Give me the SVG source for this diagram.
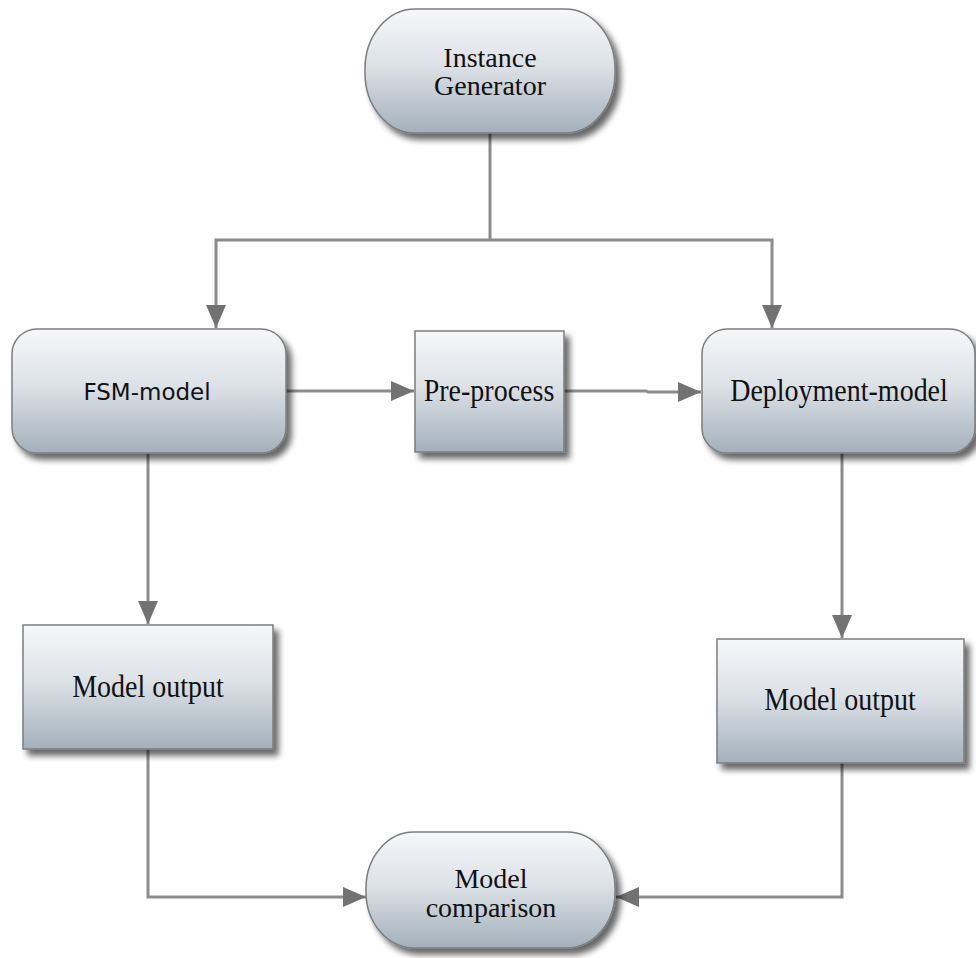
<svg xmlns="http://www.w3.org/2000/svg" width="976" height="958" viewBox="0 0 976 958">
<defs>
<linearGradient id="g" x1="0" y1="0" x2="0" y2="1">
<stop offset="0" stop-color="#f6f7f9"/>
<stop offset="0.45" stop-color="#dde2e7"/>
<stop offset="1" stop-color="#a3b0bc"/>
</linearGradient>
<filter id="sh" x="-10%" y="-10%" width="125%" height="130%">
<feGaussianBlur in="SourceAlpha" stdDeviation="3"/>
<feOffset dx="5" dy="6" result="b"/>
<feComponentTransfer><feFuncA type="linear" slope="0.6"/></feComponentTransfer>
<feMerge><feMergeNode/><feMergeNode in="SourceGraphic"/></feMerge>
</filter>
<marker id="ah" markerWidth="24" markerHeight="22" refX="23" refY="11" orient="auto" markerUnits="userSpaceOnUse">
<path d="M0,1 L23,11 L0,21 Z" fill="#727272"/>
</marker>
<style>
.box{fill:url(#g);stroke:#7d7d7d;stroke-width:1.5;filter:url(#sh)}
.ts{font-family:"Liberation Serif","Times New Roman",serif;font-size:28px;fill:#111;text-anchor:middle}
.tv{font-family:"DejaVu Sans",Verdana,sans-serif;font-size:23px;fill:#111;text-anchor:middle}
.c{fill:none;stroke:#8c8c8c;stroke-width:3}
</style>
</defs>
<g id="connectors">
<path class="c" d="M490,133 L490,240"/>
<path class="c" d="M490,240 L216,240 L216,328" marker-end="url(#ah)"/>
<path class="c" d="M490,240 L772,240 L772,328" marker-end="url(#ah)"/>
<path class="c" d="M286,391 L414,391" marker-end="url(#ah)"/>
<path class="c" d="M564,391 L646,391 L648,392 L701,392" marker-end="url(#ah)"/>
<path class="c" d="M148,453 L148,624" marker-end="url(#ah)"/>
<path class="c" d="M842,453 L842,638" marker-end="url(#ah)"/>
<path class="c" d="M148,749 L148,897 L366,897" marker-end="url(#ah)"/>
<path class="c" d="M842,763 L842,897 L616,897" marker-end="url(#ah)"/>
</g>
<g id="instance-generator">
<rect class="box" x="365" y="9" width="250" height="124" rx="50" ry="60"/>
<text class="ts" x="490" y="67">Instance</text>
<text class="ts" x="490" y="95">Generator</text>
</g>
<g id="fsm-model">
<rect class="box" x="12" y="329" width="274" height="124" rx="25" ry="25"/>
<text class="tv" x="147" y="400">FSM-model</text>
</g>
<g id="pre-process">
<rect class="box" x="415" y="331" width="149" height="121"/>
<text class="ts" transform="translate(489,401) scale(1,1.1)">Pre-process</text>
</g>
<g id="deployment-model">
<rect class="box" x="702" y="329" width="273" height="124" rx="25" ry="25"/>
<text class="ts" transform="translate(839,401) scale(1,1.1)">Deployment-model</text>
</g>
<g id="model-output-left">
<rect class="box" x="23" y="625" width="250" height="124"/>
<text class="ts" transform="translate(148,697) scale(1,1.1)">Model output</text>
</g>
<g id="model-output-right">
<rect class="box" x="717" y="639" width="247" height="124"/>
<text class="ts" transform="translate(840,710) scale(1,1.1)">Model output</text>
</g>
<g id="model-comparison">
<rect class="box" x="366" y="832" width="249" height="116" rx="48" ry="56"/>
<text class="ts" x="491" y="888">Model</text>
<text class="ts" x="491" y="917">comparison</text>
</g>
</svg>
